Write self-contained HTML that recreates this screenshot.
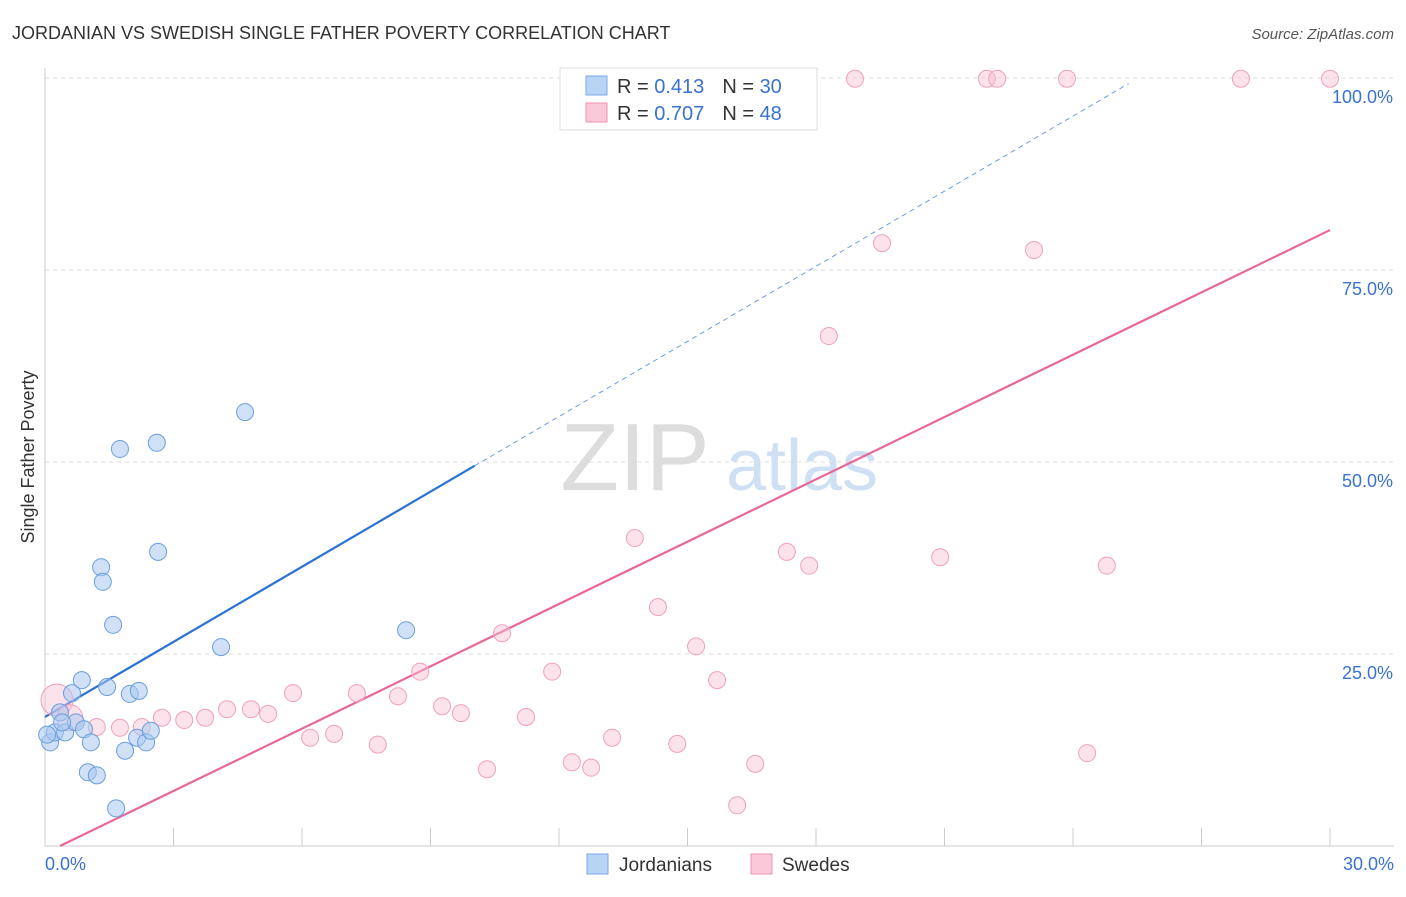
<!DOCTYPE html>
<html><head><meta charset="utf-8">
<style>
body{margin:0;background:#fff;font-family:"Liberation Sans",sans-serif;}
svg text{font-family:"Liberation Sans",sans-serif;}
</style></head>
<body>
<svg id="chart" width="1406" height="892" xmlns="http://www.w3.org/2000/svg">
<text x="12" y="39" font-size="18" fill="#333">JORDANIAN VS SWEDISH SINGLE FATHER POVERTY CORRELATION CHART</text>
<text x="1394" y="39" font-size="15" fill="#555" text-anchor="end" font-style="italic">Source: ZipAtlas.com</text>
<text transform="translate(34,457) rotate(-90)" font-size="18" fill="#333" text-anchor="middle">Single Father Poverty</text>
<g>
<text x="635" y="490" font-size="96" fill="#ddd" text-anchor="middle" font-family="Liberation Serif,serif">ZIP</text>
<text x="802" y="490" font-size="72" fill="#cfe0f4" text-anchor="middle">atlas</text>
</g>
<g id="grid"></g><g id="axes"></g><g id="lines"></g><g id="points"></g>
<g>
<rect x="560" y="68" width="257" height="62" fill="#fff" stroke="#ddd"/>
<rect x="586" y="76" width="21" height="19" fill="#b8d4f5" stroke="#7aaae8"/>
<rect x="586" y="103" width="21" height="19" fill="#fac8d8" stroke="#ee92b0"/>
<text x="617" y="93" font-size="20" fill="#333">R = <tspan fill="#3a72d0"> 0.413</tspan><tspan dx="18">N = </tspan><tspan fill="#3a72d0">30</tspan></text>
<text x="617" y="120" font-size="20" fill="#333">R = <tspan fill="#3a72d0">0.707</tspan><tspan dx="18">N = </tspan><tspan fill="#3a72d0">48</tspan></text>
</g>
<g>
<rect x="587" y="854" width="21" height="20" fill="#b8d4f5" stroke="#7aaae8"/>
<text x="619" y="871" font-size="19" fill="#333">Jordanians</text>
<rect x="751" y="854" width="21" height="20" fill="#fac8d8" stroke="#ee92b0"/>
<text x="782" y="871" font-size="19" fill="#333">Swedes</text>
</g>
</svg>
<script>
const blueX=[0.12,0.23,0.35,0.47,0.63,0.72,0.86,0.91,1.0,1.07,1.21,1.31,1.35,1.45,1.59,1.66,1.75,1.87,1.98,2.15,2.19,2.36,2.47,2.61,2.64,4.11,4.67,8.43,0.05,0.4];
const blueY=[13.5,14.8,17.4,14.8,19.9,16.1,21.6,15.2,9.6,13.5,9.2,36.3,34.4,20.7,28.8,4.9,51.7,12.4,19.8,14.1,20.2,13.5,15.0,52.5,38.3,25.9,56.5,28.1,14.5,16.1];
const pinkX=[0.28,0.58,1.21,1.75,2.26,2.73,3.25,3.74,4.25,4.81,5.21,5.79,6.19,6.75,7.28,7.77,8.24,8.76,9.27,9.71,10.32,10.67,11.23,11.84,12.3,12.75,13.24,13.77,14.31,14.76,15.2,15.69,16.16,16.58,17.32,17.84,18.3,18.91,19.54,20.9,21.99,22.23,23.09,23.86,24.33,24.79,27.92,30.0];
const pinkY=[19.0,16.7,15.5,15.4,15.5,16.7,16.4,16.7,17.8,17.8,17.2,19.9,14.1,14.6,19.9,13.2,19.5,22.7,18.2,17.3,10.0,27.7,16.8,22.7,10.9,10.2,14.1,40.1,31.1,13.3,26.0,21.6,5.3,10.7,38.3,36.5,66.4,99.9,78.5,37.6,99.9,99.9,77.6,99.9,12.1,36.5,99.9,99.9];
const pinkR=[16,13];
const yTicks=[25,50,75,100];
const yTickLabels=["25.0%","50.0%","75.0%","100.0%"];
const xTicks=[0,3,6,9,12,15,18,21,24,27,30];
const xLabels=["0.0%","30.0%"];
const blueLine=[16.8,3.26,10.03,25.3];
const pinkLine=[-0.95,2.705,30,30];

const NS="http://www.w3.org/2000/svg";
const sx=v=>45+v*(1285/30), sy=v=>846-v*7.68;
function mk(tag,attrs,parent){const e=document.createElementNS(NS,tag);for(const k in attrs)e.setAttribute(k,attrs[k]);document.getElementById(parent).appendChild(e);return e;}
yTicks.forEach((t,i)=>{
 const g=mk('line',{x1:45,x2:1394,y1:sy(t),y2:sy(t),stroke:'#ddd','stroke-dasharray':'4,4'},'grid');
 
 
 const l=mk('text',{x:1393,y:sy(t)+25,'font-size':18,fill:'#3a72d0','text-anchor':'end'},'grid');
 l.textContent=yTickLabels[i];
 
 
});
const ax=mk('line',{x1:45,x2:45,y1:68,y2:846,stroke:'#ccc'},'axes');


const bx=mk('line',{x1:45,x2:1394,y1:846,y2:846,stroke:'#ccc'},'axes');


xTicks.forEach(t=>{
 const e=mk('line',{x1:sx(t),x2:sx(t),y1:828,y2:846,stroke:'#ccc'},'axes');
 
 
});
[[0,'start',45],[30,'end',1394]].forEach((d,i)=>{
 const e=mk('text',{x:d[2],y:870,'font-size':18,fill:'#3a72d0','text-anchor':d[1]},'axes');
 e.textContent=xLabels[i];
 
 
});
function tl(p,color,name,start){
 const [b,m,e,d]=p;
 const s=mk('line',{x1:sx(start),y1:sy(b+m*start),x2:sx(e),y2:sy(b+m*e),stroke:color,'stroke-width':2.2},'lines');
 
 
 if(d>e){const q=mk('line',{x1:sx(e),y1:sy(b+m*e),x2:sx(d),y2:sy(b+m*d),stroke:color,'stroke-width':1,'stroke-dasharray':'5,4',opacity:0.7},'lines');
 
 }
}
tl(blueLine,'#2a72d6','jordanian',0);
tl(pinkLine,'#e8679a','swede',0.35);
pinkX.forEach((x,i)=>{
 const r=i<pinkR.length?pinkR[i]:8.5;
 const c=mk('circle',{cx:sx(x),cy:sy(pinkY[i]),r:r,fill:'rgba(248,190,210,0.45)',stroke:'#f0a0bc','stroke-width':1},'points');
 
 
});
blueX.forEach((x,i)=>{
 const c=mk('circle',{cx:sx(x),cy:sy(blueY[i]),r:8.5,fill:'rgba(170,200,240,0.55)',stroke:'#6a9ee0','stroke-width':1},'points');
 
 
});
</script>
</body></html>
